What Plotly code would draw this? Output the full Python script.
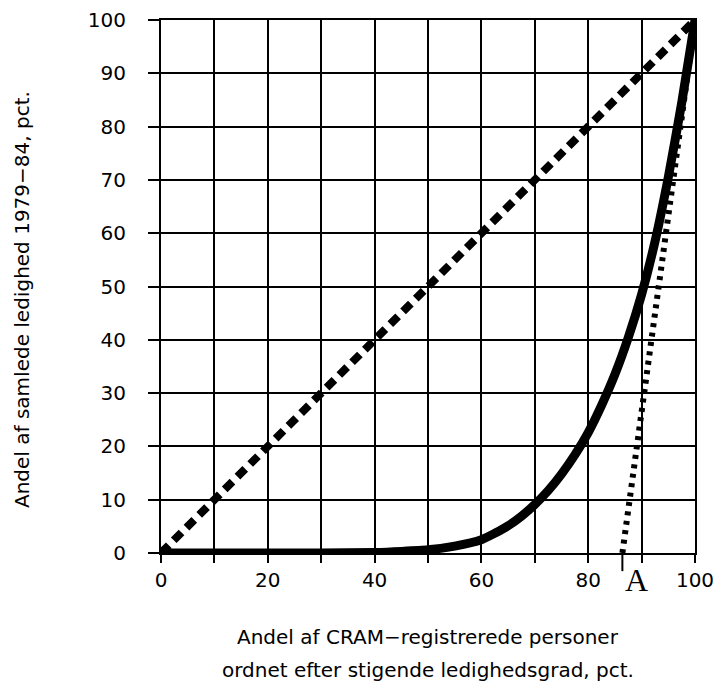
import plotly.graph_objects as go

# Lorenz curve
lorenz_x = [0, 10, 20, 30, 40, 45, 50, 55, 60, 62.5, 65, 67.5, 70, 72.5, 75, 77.5, 80,
            82.5, 85, 87.5, 90, 92.5, 95, 97.5, 100]
lorenz_y = [0, 0, 0, 0, 0.1, 0.3, 0.6, 1.3, 2.5, 3.7, 5.1, 6.9, 9.1, 11.7, 14.8, 18.4, 22.6,
            27.7, 33.5, 40.4, 48.5, 58.4, 70.5, 84.4, 100]

# Equality diagonal
diag_x = [0, 100]
diag_y = [0, 100]

# Line A
a_x = [86.4, 100]
a_y = [0, 100]
a_label = "A"

x_tickvals = [0, 10, 20, 30, 40, 50, 60, 70, 80, 90, 100]
x_ticktext = ["0", "", "20", "", "40", "", "60", "", "80", "", "100"]
y_tickvals = [0, 10, 20, 30, 40, 50, 60, 70, 80, 90, 100]
y_ticktext = ["0", "10", "20", "30", "40", "50", "60", "70", "80", "90", "100"]

x_title_1 = "Andel af CRAM\u2212registrerede personer"
x_title_2 = "ordnet efter stigende ledighedsgrad, pct."
y_title = "Andel af samlede ledighed 1979\u221284, pct."

fig = go.Figure()
fig.add_trace(go.Scatter(x=diag_x, y=diag_y, mode="lines",
                         line=dict(color="black", width=8, dash="11px,7px"),
                         cliponaxis=False, showlegend=False))
fig.add_trace(go.Scatter(x=a_x, y=a_y, mode="lines",
                         line=dict(color="black", width=6, dash="4px,5.5px"),
                         cliponaxis=False, showlegend=False))
fig.add_trace(go.Scatter(x=lorenz_x, y=lorenz_y, mode="lines",
                         line=dict(color="black", width=9, shape="spline", smoothing=0.6),
                         cliponaxis=False, showlegend=False))

tick_font = dict(family="DejaVu Sans", size=20, color="black")
title_font = dict(family="DejaVu Sans", size=20, color="black")

fig.update_xaxes(range=[0, 100], tickvals=x_tickvals, ticktext=x_ticktext,
                 showgrid=True, gridcolor="black", gridwidth=2,
                 showline=True, linecolor="black", linewidth=2, mirror=True,
                 ticks="outside", ticklen=8, tickwidth=2, tickcolor="black",
                 zeroline=False, tickfont=tick_font, automargin=False)
fig.update_yaxes(range=[0, 100], tickvals=y_tickvals, ticktext=y_ticktext,
                 showgrid=True, gridcolor="black", gridwidth=2,
                 showline=True, linecolor="black", linewidth=2, mirror=True,
                 ticks="outside", ticklen=11, tickwidth=2, tickcolor="black",
                 zeroline=False, tickfont=tick_font, ticklabelstandoff=18, automargin=False)

fig.add_shape(type="line", xref="x", yref="paper", x0=a_x[0], x1=a_x[0], y0=0, y1=-0.034,
              line=dict(color="black", width=2))

fig.add_annotation(x=89.1, y=-0.05, xref="x", yref="paper", text=a_label, showarrow=False,
                   yanchor="middle", font=dict(family="Liberation Serif", size=32, color="black"))
fig.add_annotation(x=0.5, y=-0.157, xref="paper", yref="paper", text=x_title_1, showarrow=False,
                   yanchor="middle", font=title_font)
fig.add_annotation(x=0.5, y=-0.22, xref="paper", yref="paper", text=x_title_2, showarrow=False,
                   yanchor="middle", font=title_font)
fig.add_annotation(x=-0.26, y=0.475, xref="paper", yref="paper", text=y_title, showarrow=False,
                   textangle=-90, xanchor="center", yanchor="middle", font=title_font)

fig.update_layout(width=721, height=685, plot_bgcolor="white", paper_bgcolor="white",
                  margin=dict(l=161, r=26, t=20, b=132), showlegend=False)

fig.write_html("out.html", config={"displayModeBar": False},
               post_script="document.body.style.margin='0';")
